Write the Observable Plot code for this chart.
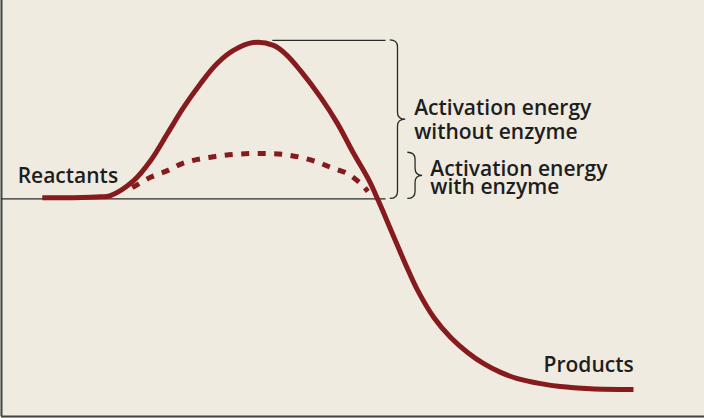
<!DOCTYPE html>
<html>
<head>
<meta charset="utf-8">
<script src="https://cdn.jsdelivr.net/npm/d3@7"></script>
<script src="https://cdn.jsdelivr.net/npm/@observablehq/plot@0.6"></script>
<style>
  html, body { margin: 0; padding: 0; background: #efebe1; }
  #chart svg { display: block; }
</style>
</head>
<body>
<div id="chart"></div>
<script>
// Reaction progress (0–100) and free energy (0–100)
const progressNoEnzyme = [5.8, 9.8, 14.1, 15.5, 18.8, 21.2, 23.6, 25.9, 28.3, 30.7, 33.0, 35.8, 38.7, 40.5, 42.5, 45.4, 47.8, 50.1, 52.3, 53.6, 55.6, 57.5, 59.2, 61.5, 63.9, 66.3, 68.6, 71.0, 73.4, 76.7, 79.5, 83.8, 89.9];
const energyNoEnzyme   = [52.6, 52.6, 52.8, 53.1, 56.7, 61.5, 68.0, 74.3, 80.0, 84.9, 88.0, 89.9, 89.2, 87.0, 83.2, 76.7, 70.4, 63.2, 56.7, 51.9, 44.0, 36.5, 30.3, 23.8, 19.0, 15.4, 12.7, 10.6, 9.1, 7.9, 7.2, 6.7, 6.5];

const progressEnzyme = [18.6, 21.2, 23.6, 25.7, 27.9, 30.4, 32.9, 35.4, 37.8, 40.1, 42.5, 45.0, 46.8, 49.2, 51.1, 52.1];
const energyEnzyme   = [55.0, 57.5, 59.1, 60.8, 61.8, 62.5, 63.0, 63.2, 63.2, 63.0, 62.3, 61.1, 59.9, 58.4, 56.0, 54.1];

// Reference levels
const reactantLevel = 52.3;
const peakNoEnzyme = 90.4;
const peakEnzyme = 63.4;

// Labels
const labelText = ["Reactants", "Activation energy", "without enzyme", "Activation energy", "with enzyme", "Products"];
const labelX    = [2.3, 58.7, 58.7, 61.0, 61.0, 77.1];
const labelY    = [57.8, 74.0, 68.4, 59.5, 55.2, 12.2];

const solid = progressNoEnzyme.map((p, i) => ({p, e: energyNoEnzyme[i]}));
const dashed = progressEnzyme.map((p, i) => ({p, e: energyEnzyme[i]}));
const labels = labelText.map((t, i) => ({t, x: labelX[i], y: labelY[i]}));

const red = "#861b1d";
const ink = "#2a2a2a";

function brace(xStart, xMid, xTip, yTop, yBot) {
  return (index, scales) => {
    const x0 = scales.x(xStart), x1 = scales.x(xMid), x2 = scales.x(xTip);
    const y0 = scales.y(yTop), y1 = scales.y(yBot);
    const ym = (y0 + y1) / 2;
    const r = Math.min(7, (y1 - y0) / 4);
    const path = d3.path();
    path.moveTo(x0, y0);
    path.quadraticCurveTo(x1, y0, x1, y0 + r);
    path.lineTo(x1, ym - r);
    path.quadraticCurveTo(x1, ym, x2, ym);
    path.quadraticCurveTo(x1, ym, x1, ym + r);
    path.lineTo(x1, y1 - r);
    path.quadraticCurveTo(x1, y1, x0, y1);
    return d3.create("svg:path")
      .attr("d", path.toString())
      .attr("fill", "none")
      .attr("stroke", ink)
      .attr("stroke-width", 1.3)
      .node();
  };
}

const chart = Plot.plot({
  width: 704,
  height: 418,
  marginLeft: 1,
  marginRight: 0,
  marginTop: 0,
  marginBottom: 2,
  style: {background: "#efebe1", fontFamily: "'Open Sans', sans-serif"},
  x: {domain: [0, 100], axis: null},
  y: {domain: [0, 100], axis: null},
  marks: [
    Plot.ruleX([0], {stroke: "#444", strokeWidth: 2}),
    Plot.ruleY([0], {stroke: "#444", strokeWidth: 2}),
    Plot.ruleY([reactantLevel], {x1: 0, x2: 54.7, stroke: ink, strokeWidth: 1.3}),
    Plot.ruleY([peakNoEnzyme], {x1: 38.6, x2: 54.7, stroke: ink, strokeWidth: 1.3}),
    brace(55.3, 56.4, 57.5, peakNoEnzyme, reactantLevel),
    brace(57.8, 58.9, 59.9, peakEnzyme, reactantLevel),
    Plot.line(dashed, {x: "p", y: "e", curve: "catmull-rom", stroke: red, strokeWidth: 5, strokeDasharray: "8,8.5", strokeLinecap: "butt"}),
    Plot.line(solid, {x: "p", y: "e", curve: "catmull-rom", stroke: red, strokeWidth: 5, strokeLinecap: "butt"}),
    Plot.text(labels, {x: "x", y: "y", text: "t", textAnchor: "start", lineAnchor: "middle", fontSize: 21, fontWeight: 600, fill: "#1e1e1e"})
  ]
});
document.getElementById("chart").appendChild(chart);
</script>
</body>
</html>
